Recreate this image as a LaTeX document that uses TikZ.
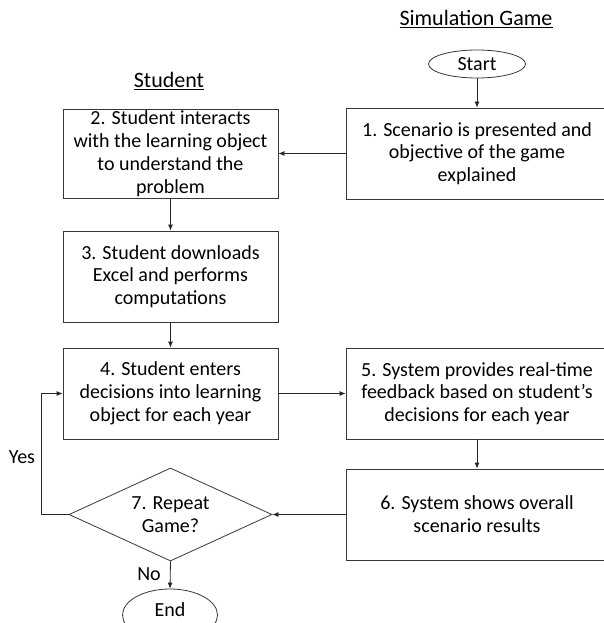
\documentclass[tikz,border=0pt]{standalone}
\usepackage{fontspec}
\setmainfont{Carlito}
\usetikzlibrary{shapes.geometric,arrows.meta}
\begin{document}
\begin{tikzpicture}[x=1pt,y=-1pt,
  txt/.style={font=\fontsize{20}{22.8}\selectfont, align=center, inner sep=0pt},
  ttl/.style={font=\fontsize{22}{26}\selectfont, align=center, inner sep=0pt},
  box/.style={txt, draw=black!78, line width=0.8pt, rectangle},
  lbox/.style={box, minimum width=215pt},
  rbox/.style={box, minimum width=262pt},
  oval/.style={txt, draw=black!78, line width=0.8pt, ellipse},
  arr/.style={draw=black!85, line width=0.8pt, -{Latex[length=6pt,width=5pt]}}]
\useasboundingbox (0,0) rectangle (604,623);
\clip (0,0) rectangle (604,623);
\fill[white] (0,0) rectangle (604,623);

% titles
\node[ttl] (tsim) at (476,19) {\underline{Simulation Game}};
\node[ttl] (tstu) at (169,81) {\underline{Student}};

% ovals
\node[oval, minimum width=97pt, minimum height=28pt] (start) at (477,64) {Start};
\node[oval, minimum width=95pt, minimum height=52pt] (end) at (170,615) {};
\node[txt] (endtxt) at (170,610) {End};

% right column
\node[rbox, minimum height=91pt] (b1) at (477,153.5) {1. Scenario is presented and\\objective of the game\\explained};
\node[rbox, minimum height=91pt] (b5) at (477,393.5) {5. System provides real-time\\feedback based on student’s\\decisions for each year};
\node[rbox, minimum height=91pt] (b6) at (477,514.5) {6. System shows overall\\scenario results};

% left column
\node[lbox, minimum height=89pt] (b2) at (170.5,153.5) {2. Student interacts\\with the learning object\\to understand the\\problem};
\node[lbox, minimum height=91pt] (b3) at (170.5,276.5) {3. Student downloads\\Excel and performs\\computations};
\node[lbox, minimum height=91pt] (b4) at (170.5,393.5) {4. Student enters\\decisions into learning\\object for each year};

% decision
\node[diamond, draw=black!78, line width=0.8pt, inner sep=0pt, minimum width=203pt, minimum height=93pt] (d7) at (170.5,514.5) {};
\node[txt] (d7txt) at (170.5,514.5) {7. Repeat\\Game?};

% connectors
\draw[arr] (start) -- (b1);
\draw[arr] (b1.west) -- (b2.east);
\draw[arr] (b2) -- (b3);
\draw[arr] (b3) -- (b4);
\draw[arr] (b4.east) -- (b5.west);
\draw[arr] (b5) -- (b6);
\draw[arr] (b6.west) -- (d7.east);
\coordinate (yc) at (41,0);
\draw[arr] (d7.west) -| (yc |- b4.west) -- (b4.west);
\draw[arr] (d7.south) -- (end.north);

% labels
\node[txt] (yes) at (22,457) {Yes};
\node[txt] (no) at (149,574) {No};
\end{tikzpicture}
\end{document}
